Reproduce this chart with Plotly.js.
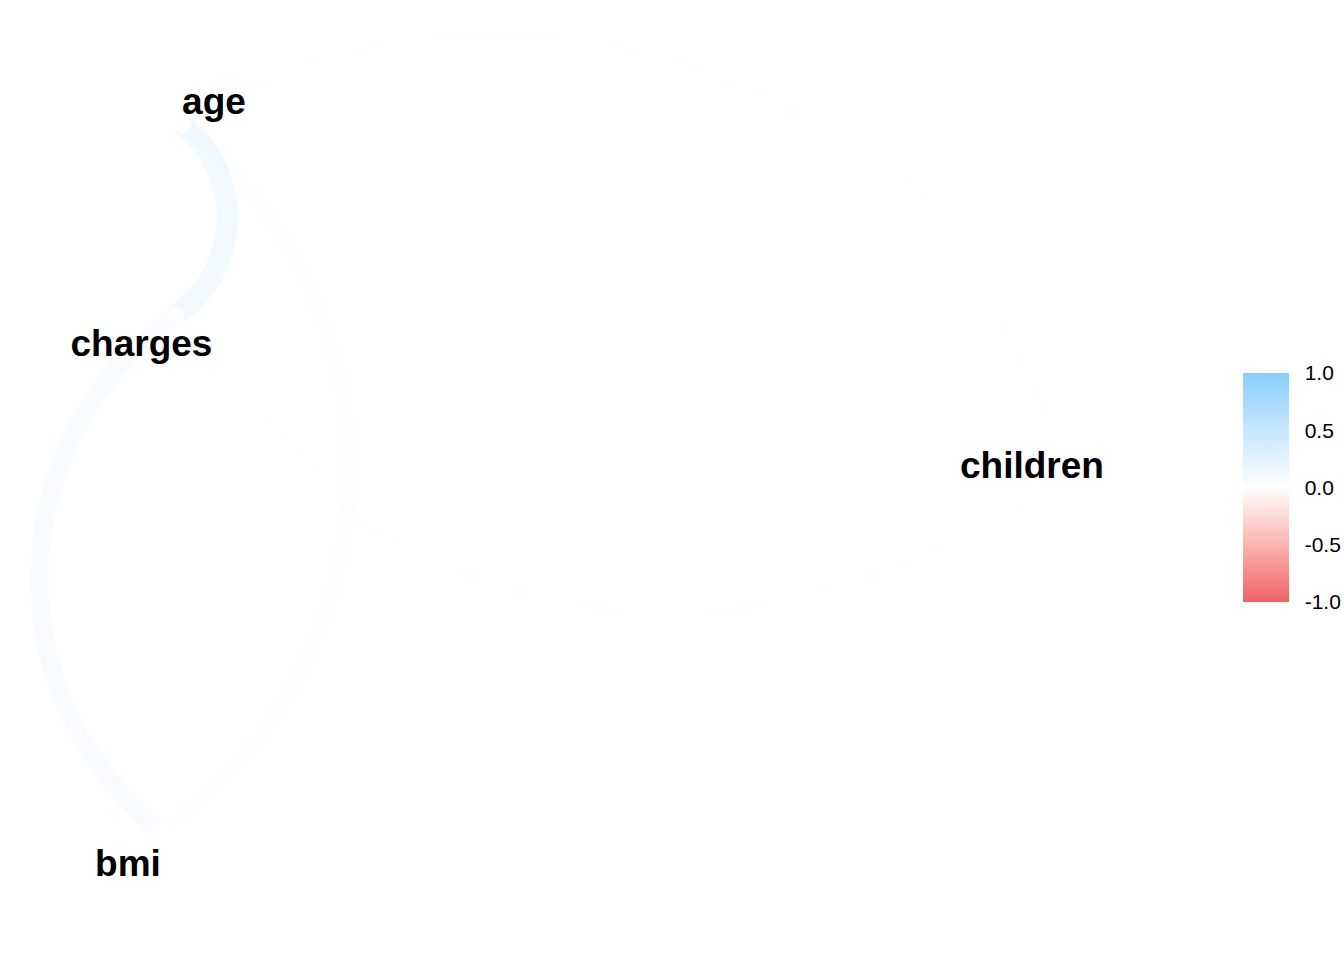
<!DOCTYPE html>
<html>
<head>
<meta charset="utf-8">
<script src="https://cdn.plot.ly/plotly-3.0.1.min.js"></script>
<style>html,body{margin:0;padding:0;background:#fff;}#chart{width:1344px;height:960px;}</style>
</head>
<body>
<div id="chart"></div>
<script>
// ---- data ----
// variables (nodes) and their multidimensional-scaling coordinates
const variables = ["age", "charges", "bmi", "children"];
const nodeX = [1.83, 1.76, 1.61, 10.60];
const nodeY = [8.35, 6.45, 1.29, 5.05];
// pairwise correlations (edges)
const edgeFrom = ["age", "age", "age", "bmi", "bmi", "children"];
const edgeTo   = ["bmi", "children", "charges", "children", "charges", "charges"];
const edgeR    = [0.109, 0.042, 0.299, 0.013, 0.198, 0.068];
// colour bar
const barTicks  = [-1, -0.5, 0, 0.5, 1];
const barLabels = ["-1.0", "-0.5", "0.0", "0.5", "1.0"];

// ---- styling ----
const labelOffset = {age: [0.31, 0.20], charges: [-0.345, -0.32], bmi: [-0.33, -0.36], children: [-0.28, -0.14]};
const LOW = [238, 99, 99], MID = [255, 255, 255], HIGH = [135, 206, 255];
const curvature = 0.25; // sagitta / chord

function edgeColour(r) {
  const t = Math.min(1, Math.abs(r));
  const end = r >= 0 ? HIGH : LOW;
  const c = MID.map((m, i) => Math.round(m + (end[i] - m) * t));
  const a = 0.1 + 0.9 * t;
  return `rgba(${c[0]},${c[1]},${c[2]},${a.toFixed(3)})`;
}
function edgeWidth(r) { return 4.9 + 29.4 * Math.sqrt(Math.abs(r)); }

function arc(p, q) {
  const dx = q[0] - p[0], dy = q[1] - p[1];
  const L = Math.hypot(dx, dy);
  const t = [dx / L, dy / L];
  const n = [-t[1], t[0]];
  const s = curvature * L;
  const R = (L * L / 4 + s * s) / (2 * s);
  const M = [(p[0] + q[0]) / 2, (p[1] + q[1]) / 2];
  const C = [M[0] - n[0] * (R - s), M[1] - n[1] * (R - s)];
  const th = Math.asin(Math.min(1, (L / 2) / R));
  const xs = [], ys = [];
  const N = 300;
  for (let i = 0; i <= N; i++) {
    const phi = -th + 2 * th * i / N;
    xs.push(C[0] + R * (n[0] * Math.cos(phi) + t[0] * Math.sin(phi)));
    ys.push(C[1] + R * (n[1] * Math.cos(phi) + t[1] * Math.sin(phi)));
  }
  return {xs, ys};
}

const pos = {};
variables.forEach((v, i) => pos[v] = [nodeX[i], nodeY[i]]);

const traces = [];
// draw weaker edges first
const order = edgeR.map((r, i) => i).sort((a, b) => Math.abs(edgeR[a]) - Math.abs(edgeR[b]));
order.forEach(i => {
  const a = arc(pos[edgeFrom[i]], pos[edgeTo[i]]);
  traces.push({
    type: "scatter", mode: "lines", x: a.xs, y: a.ys,
    line: {color: edgeColour(edgeR[i]), width: edgeWidth(edgeR[i]), shape: "linear", simplify: false},
    hoverinfo: "skip", showlegend: false
  });
});

// invisible trace carrying the colour scale
traces.push({
  type: "scatter", mode: "markers",
  x: edgeFrom.map((f, i) => (pos[f][0] + pos[edgeTo[i]][0]) / 2),
  y: edgeFrom.map((f, i) => (pos[f][1] + pos[edgeTo[i]][1]) / 2),
  marker: {
    color: edgeR, cmin: -1, cmax: 1, size: 1, opacity: 0,
    colorscale: [[0, "rgb(238,99,99)"], [0.25, "rgb(250,180,175)"], [0.5, "rgb(255,255,255)"], [0.75, "rgb(198,230,255)"], [1, "rgb(135,206,255)"]],
    showscale: true,
    colorbar: {
      x: 1243 / 1344, xanchor: "left", xpad: 0, ypad: 0,
      y: 1 - 487.5 / 960, yanchor: "middle",
      thickness: 46, thicknessmode: "pixels",
      len: 229, lenmode: "pixels",
      outlinewidth: 0,
      tickmode: "array", tickvals: barTicks, ticktext: barLabels,
      ticks: "outside", ticklen: 12, tickcolor: "rgba(0,0,0,0)",
      tickfont: {family: "Liberation Sans, Arial, sans-serif", size: 21, color: "#000"}
    }
  },
  hoverinfo: "skip", showlegend: false
});

// nodes
traces.push({
  type: "scatter", mode: "markers", x: nodeX, y: nodeY,
  marker: {color: "#ffffff", size: 17, line: {width: 0}},
  hoverinfo: "skip", showlegend: false
});

// labels
traces.push({
  type: "scatter", mode: "text",
  x: variables.map((v, i) => nodeX[i] + labelOffset[v][0]),
  y: variables.map((v, i) => nodeY[i] + labelOffset[v][1]),
  text: variables.map(v => "<b>" + v + "</b>"),
  textposition: "middle center",
  textfont: {family: "Liberation Sans, Arial, sans-serif", size: 37, color: "#000"},
  hoverinfo: "skip", showlegend: false
});

const layout = {
  width: 1344, height: 960,
  margin: {l: 0, r: 0, t: 0, b: 0, pad: 0},
  paper_bgcolor: "#ffffff", plot_bgcolor: "#ffffff",
  xaxis: {range: [0, 13.44], visible: false, fixedrange: true},
  yaxis: {range: [0, 9.6], visible: false, fixedrange: true},
  showlegend: false
};

Plotly.newPlot("chart", traces, layout, {displayModeBar: false, staticPlot: true});
</script>
</body>
</html>
